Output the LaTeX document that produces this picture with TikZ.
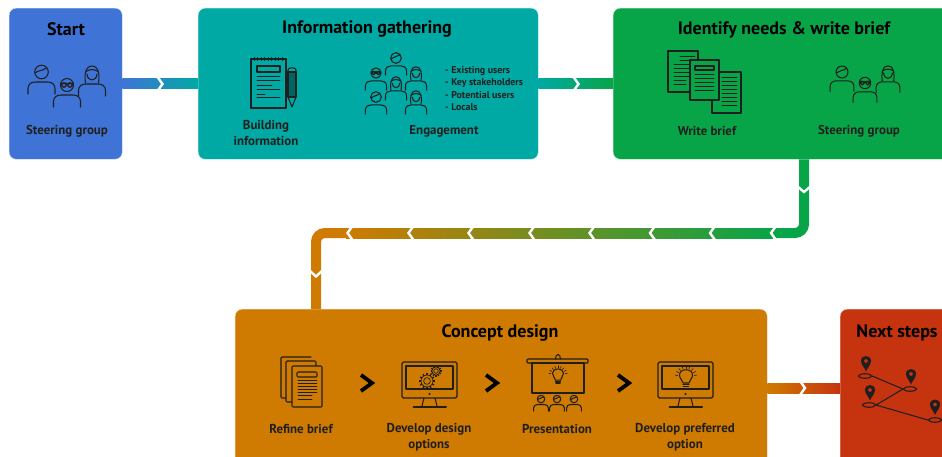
\documentclass[tikz,border=0pt]{standalone}
\usepackage{fontspec}
\setmainfont{PT Sans}
\usetikzlibrary{calc,shapes.geometric}
\definecolor{cblue}{HTML}{3F74D6}
\definecolor{cteal}{HTML}{00A9A4}
\definecolor{cgreen}{HTML}{08A548}
\definecolor{corange}{HTML}{CF7A00}
\definecolor{cred}{HTML}{C6330F}
\colorlet{ink}{black!88}
\newcommand{\bodypart}{\draw[il] (-13.5,22)--(-13.5,16.5) .. controls (-13.5,12) and (-10,10) .. (-6,10) -- (6,10) .. controls (10,10) and (13.5,12) .. (13.5,16.5) -- (13.5,22);}
\tikzset{
  x=1pt,y=-1pt,
  box/.style={anchor=north west,inner sep=0pt,rounded corners=7pt,draw=white!70!#1,line width=0.4pt,fill=#1},
  title/.style={font=\bfseries\fontsize{18}{20}\selectfont,text=black,inner sep=0pt},
  lab/.style={font=\bfseries\fontsize{12.9}{15.7}\selectfont,text=ink,align=center,inner sep=0pt},
  lst/.style={font=\bfseries\fontsize{9.9}{12}\selectfont,text=ink,anchor=west,inner sep=0pt},
  gap/.style={draw=white,line width=2.4pt,miter limit=10},
  band/.style={line width=10pt},
  il/.style={draw=ink,line width=1.05pt,line cap=round,line join=round},
  ilf/.style={il,fill=#1},
  chev/.style={draw=black,line width=3.8pt,miter limit=10},
  ring/.style={draw=ink,line width=1.1pt,ellipse,inner sep=0pt,minimum width=13pt,minimum height=4.5pt},
  pics/manp/.style={code={\bodypart\draw[il] (0,0) circle (6.8);\draw[il] (-6.5,1) .. controls (-3,-2) and (1,-1) .. (5,-4);}},
  pics/glassp/.style={code={\bodypart\draw[il] (0,0) circle (6.5);\draw[il,line width=1.3pt] (-3,0) circle (2.2) (3,0) circle (2.2) (-6.3,-1.5)--(6.3,-1.5);}},
  pics/womanp/.style={code={\bodypart\draw[il] (-6.5,9) .. controls (-7.5,3) and (-7.5,-8) .. (0,-8) .. controls (7.5,-8) and (7.5,3) .. (6.5,9);\draw[il] (-6,-2.5) .. controls (-3,-5) and (3,-5) .. (6,-2.5);\draw[il] (-5,0) .. controls (-4.5,8) and (4.5,8) .. (5,0);}},
  pics/monitorp/.style={code={
    \draw[il,line width=1.2pt,rounded corners=1.5pt] (0,0) rectangle (55,36);
    \draw[il] (4,4) rectangle (51,27);
    \draw[il] (27.5,32) circle (0.6);
    \draw[il] (22,36)--(20,44) (33,36)--(35,44);
    \draw[il,line width=2pt] (11.5,44.5)--(44,44.5);}},
  pics/bulbp/.style={code={
    \draw[il] (-3,6) .. controls (-3,3) and (-6.5,2) .. (-6.5,-2) .. controls (-6.5,-9) and (6.5,-9) .. (6.5,-2) .. controls (6.5,2) and (3,3) .. (3,6) -- cycle;
    \draw[il,line width=1.3pt] (-3,7.5)--(3,7.5) (-2.5,9.5)--(2.5,9.5);
    \foreach \a in {-170,-150,...,-10}{\draw[il,line width=0.6pt] (\a:8.5) -- (\a:11);}}},
  pics/pinp/.style={code={
    \fill[ink,even odd rule] (0,10.5) .. controls (-1,7) and (-5,4) .. (-5,0) .. controls (-5,-6.6) and (5,-6.6) .. (5,0) .. controls (5,4) and (1,7) .. (0,10.5) -- cycle (0,0) circle (2);}},
}
\newcommand{\textlines}[4]{\foreach \yy in {#4}{\draw[il,line width=0.8pt] (#1,\yy)--(#2,\yy);}}
\newcommand{\gearshape}[3]{\draw[il,line width=0.7pt] (#1,#2) circle ({#3*0.42}) (#1,#2) circle ({#3*0.75});\foreach \a in {0,30,...,330}{\draw[il,line width=1.3pt,line cap=butt] ($(#1,#2)+(\a:{#3*0.75})$)--($(#1,#2)+(\a:#3)$);}}
\begin{document}
\begin{tikzpicture}
\useasboundingbox (0,0) rectangle (942,456);
\clip (0,0) rectangle (942,456);
% boxes
\node[box=cblue,minimum width=113pt,minimum height=151pt] (start) at (9,8) {};
\node[box=cteal,minimum width=340pt,minimum height=151pt] (info) at (198,8) {};
\node[box=cgreen,minimum width=350pt,minimum height=151pt] (identify) at (613,8) {};
\node[box=corange,minimum width=532pt,minimum height=158pt] (concept) at (235,309) {};
\node[box=cred,minimum width=130pt,minimum height=158pt] (next) at (840,309) {};
% straight connectors
\shade[left color=cblue,right color=cteal] ([yshift=-5pt]start.east) rectangle ([yshift=5pt]info.west);
\shade[left color=cteal,right color=cgreen] ([yshift=-5pt]info.east) rectangle ([yshift=5pt]identify.west);
\shade[left color=corange,right color=cred] ([yshift=-5pt]concept.east) rectangle ([yshift=5pt]next.west);
\draw[gap] (157.5,77)--(162.5,84)--(157.5,91);
\draw[gap] (573.5,77)--(578.5,84)--(573.5,91);
\draw[gap] (800,381)--(805,388)--(800,395);
% long connector
\coordinate (turnR) at (804,233);
\coordinate (turnL) at (316,233);
\coordinate (shadeL) at (346,233);
\coordinate (shadeR) at (773,233);
\draw[band,cgreen,rounded corners=9pt] (identify.south -| turnR) -- (turnR) -- (shadeR);
\draw[band,corange,rounded corners=9pt] (concept.north -| turnL) -- (turnL) -- (shadeL);
\shade[left color=corange,right color=cgreen] ([yshift=5pt]shadeL) rectangle ([yshift=-5pt]shadeR);
\foreach \gx in {347.5,408.5,468.5,529.5,589.5,650,710,771}{
  \draw[gap] (\gx+5,226)--(\gx,233)--(\gx+5,240);}
\draw[gap] (797,186)--(804,192)--(811,186);
\draw[gap] (309,270)--(316,276.5)--(323,270);
% titles
\node[title] (tstart) at (66,29.5) {Start};
\node[title] (tinfo) at (367,29.5) {Information gathering};
\node[title] (tident) at (784,29.5) {Identify needs \& write brief};
\node[title] (tconc) at (500,332.5) {Concept design};
\node[title] (tnext) at (897,332.5) {Next steps};
% labels
\node[lab] (l1) at (67,131.5) {Steering group};
\node[lab] (l2) at (266,133) {Building\\information};
\node[lab] (l3) at (444,131.5) {Engagement};
\node[lst] (e1) at (445,71.5) {- Existing users};
\node[lst] (e2) at (445,83.5) {- Key stakeholders};
\node[lst] (e3) at (445,95.5) {- Potential users};
\node[lst] (e4) at (445,107.5) {- Locals};
\node[lab] (l4) at (707,131) {Write brief};
\node[lab] (l5) at (859,131.5) {Steering group};
\node[lab] (l6) at (301,429) {Refine brief};
\node[lab] (l7) at (429,437) {Develop design\\options};
\node[lab] (l8) at (557,429) {Presentation};
\node[lab] (l9) at (685,437) {Develop preferred\\option};
% steering group, start
\pic at (41.5,72) {manp};
\pic at (67,85) {glassp};
\pic at (92,74) {womanp};
% steering group, identify
\pic[scale=.88] at (842,72) {manp};
\pic[scale=.88] at (865,83) {glassp};
\pic[scale=.88] at (888,73) {womanp};
% engagement
\pic[scale=.78] at (396,58) {manp};
\pic[scale=.78] at (376,73) {glassp};
\pic[scale=.78] at (416,73) {womanp};
\pic[scale=.78] at (396,83) {womanp};
\pic[scale=.78] at (376,97) {manp};
\pic[scale=.78] at (416,97) {womanp};
% notebook
\draw[il,line width=1.2pt] (251,59) rectangle (286,108);
\foreach \nx in {254,257.5,...,284}{\draw[il,line width=0.9pt] (\nx,57.5)--(\nx,60.5);}
\draw[il] (257,66) rectangle (280,72);
\textlines{257}{280}{}{76,80}
\textlines{257}{272}{}{85}
\textlines{257}{280}{}{89}
\textlines{257}{265}{}{94}
\textlines{257}{280}{}{97}
% pencil
\draw[il,fill=black!40!cteal] (288,72) rectangle (296,97);
\draw[il] (288,70) .. controls (288,67) and (296,67) .. (296,70) -- (296,72) -- (288,72) -- cycle;
\draw[il] (288,97)--(292,107)--(296,97);
% write brief
\draw[il,line width=1.2pt] (668,51) rectangle (698,92);
\textlines{680}{695}{}{56,60}
\textlines{674}{695}{}{64,68,72,76}
\textlines{674}{686}{}{80,84}
\draw[ilf=cgreen,line width=1.2pt] (712,72) rectangle (741,113);
\textlines{722}{737}{}{77,81}
\textlines{722}{737}{}{85,89,93,97,101,105}
\draw[ilf=cgreen,line width=1.2pt] (690,60) rectangle (719,100);
\draw[il] (695,66) rectangle (714,70);
\textlines{695}{714}{}{74,78,82,86,90}
% refine brief
\draw[il,rounded corners=1pt] (311,357) -- (281,357) -- (281,398) -- (286,398);
\draw[ilf=corange,rounded corners=1pt] (286,361) rectangle (316,402);
\draw[ilf=corange,rounded corners=1pt] (292,366) rectangle (322,407);
\draw[il,rounded corners=1pt] (297,372) rectangle (317,377);
\textlines{298}{317}{}{380.5,383.5,386.5,389.5,392.5}
\textlines{298}{312}{}{395.5,399}
% chevrons
\draw[chev] (361,375)--(372,383)--(361,391);
\draw[chev] (486,375)--(497,383)--(486,391);
\draw[chev] (618,375)--(629,383)--(618,391);
% monitors
\pic at (402,362) {monitorp};
\gearshape{427}{381}{8}
\gearshape{436}{371}{5.5}
\pic at (658,362) {monitorp};
\pic at (686,377) {bulbp};
% presentation
\draw[il] (555.5,359) .. controls (555.5,353) and (560.5,353) .. (560.5,359);
\draw[il,line width=1.2pt,rounded corners=1pt] (527,359) rectangle (588,363);
\draw[il,line width=1.2pt] (532,363) rectangle (584,393);
\pic[scale=.85] at (558,375) {bulbp};
\pic[scale=.55] at (541,399) {manp};
\pic[scale=.55] at (557,399) {manp};
\pic[scale=.55] at (574,399) {manp};
% next steps map
\node[ring] (ra) at (865,376) {};
\node[ring] (rb) at (910,389) {};
\node[ring] (rc) at (869,405) {};
\node[ring] (rd) at (935,420) {};
\draw[il] (ra.east) -- (rb.west);
\draw[il] (rb.west) -- (rc.east);
\draw[il] (rc.east) -- (rd.west);
\pic at (866,361) {pinp};
\pic at (911,374) {pinp};
\pic at (870,390) {pinp};
\pic at (935,404.5) {pinp};
\end{tikzpicture}
\end{document}
